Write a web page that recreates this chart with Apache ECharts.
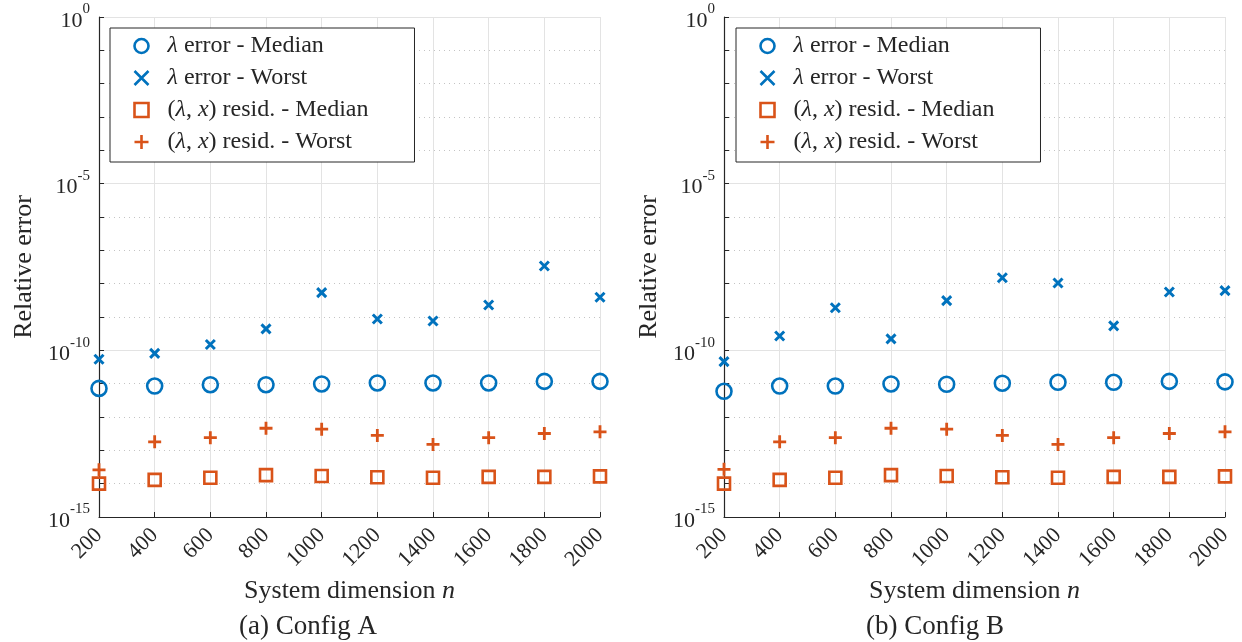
<!DOCTYPE html>
<html>
<head>
<meta charset="utf-8">
<script src="https://cdn.jsdelivr.net/npm/echarts@6/dist/echarts.min.js"></script>
<style>
  html, body { margin: 0; padding: 0; background: #fff; }
  #chart { width: 1242px; height: 642px; }
</style>
</head>
<body>
<div id="chart"></div>
<script>
// system dimension n
const dims = [200, 400, 600, 800, 1000, 1200, 1400, 1600, 1800, 2000]

// (a) Config A
const lamMedA = [7.2e-12, 8.5e-12, 9.3e-12, 9.3e-12, 9.8e-12, 1.05e-11, 1.05e-11, 1.05e-11, 1.17e-11, 1.17e-11]
const lamWorstA = [5.4e-11, 8.1e-11, 1.5e-10, 4.4e-10, 5.4e-9, 8.7e-10, 7.6e-10, 2.3e-9, 3.4e-8, 3.9e-9]
const resMedA = [1.0e-14, 1.3e-14, 1.5e-14, 1.8e-14, 1.7e-14, 1.55e-14, 1.5e-14, 1.6e-14, 1.6e-14, 1.65e-14]
const resWorstA = [2.6e-14, 1.8e-13, 2.4e-13, 4.6e-13, 4.3e-13, 2.8e-13, 1.5e-13, 2.4e-13, 3.2e-13, 3.6e-13]

// (b) Config B
const lamMedB = [5.9e-12, 8.5e-12, 8.5e-12, 9.8e-12, 9.6e-12, 1.03e-11, 1.1e-11, 1.1e-11, 1.17e-11, 1.13e-11]
const lamWorstB = [4.6e-11, 2.7e-10, 1.9e-9, 2.2e-10, 3.1e-9, 1.5e-8, 1.05e-8, 5.4e-10, 5.6e-9, 6.2e-9]
const resMedB = [1.0e-14, 1.3e-14, 1.5e-14, 1.8e-14, 1.7e-14, 1.55e-14, 1.5e-14, 1.6e-14, 1.6e-14, 1.65e-14]
const resWorstB = [2.7e-14, 1.8e-13, 2.4e-13, 4.6e-13, 4.3e-13, 2.8e-13, 1.5e-13, 2.4e-13, 3.2e-13, 3.6e-13]

const names = ['λ error - Median', 'λ error - Worst', '(λ, x) resid. - Median', '(λ, x) resid. - Worst']
const captions = ['(a) Config A', '(b) Config B']

const blue = '#0072BD'
const orange = '#D95319'
const txt = '#262626'
const font = 'Liberation Serif'

const X_SYM = 'path://M0,0L10,10M10,0L0,10'
const PLUS_SYM = 'path://M5,0L5,10M0,5L10,5'

function pairs(ys) {
  return dims.map((d, i) => [d, ys[i]])
}

function makeSeries(idx, med, worst, rmed, rworst) {
  const base = { type: 'scatter', xAxisIndex: idx, yAxisIndex: idx * 2, silent: true }
  return [
    Object.assign({}, base, { name: names[0], data: pairs(med), symbol: 'circle', symbolSize: 15,
      itemStyle: { color: 'none', borderColor: blue, borderWidth: 2.6, opacity: 1 } }),
    Object.assign({}, base, { name: names[1], data: pairs(worst), symbol: X_SYM, symbolSize: 9,
      itemStyle: { color: 'none', borderColor: blue, borderWidth: 3, opacity: 1 } }),
    Object.assign({}, base, { name: names[2], data: pairs(rmed), symbol: 'rect', symbolSize: 12,
      itemStyle: { color: 'none', borderColor: orange, borderWidth: 2.6, opacity: 1 } }),
    Object.assign({}, base, { name: names[3], data: pairs(rworst), symbol: PLUS_SYM, symbolSize: 13,
      itemStyle: { color: 'none', borderColor: orange, borderWidth: 2.8, opacity: 1 } })
  ]
}

function xAxisOf(idx) {
  return {
    type: 'value', gridIndex: idx, min: 200, max: 2000, interval: 200,
    name: 'System dimension {i|n}', nameLocation: 'middle', nameGap: 60,
    nameTextStyle: { fontFamily: font, fontSize: 26, color: txt,
      rich: { i: { fontFamily: font, fontSize: 26, fontStyle: 'italic', color: txt } } },
    axisLine: { lineStyle: { color: txt, width: 1.2 } },
    axisTick: { inside: true, length: 5, lineStyle: { color: txt } },
    axisLabel: { rotate: 45, fontFamily: font, fontSize: 22, color: txt, margin: 15,
      formatter: function (v) { return String(v) } },
    splitLine: { show: true, lineStyle: { color: '#e3e3e3', width: 1 } }
  }
}

function yAxesOf(idx) {
  return [{
    type: 'log', gridIndex: idx, min: 1e-15, max: 1, interval: 1,
    name: 'Relative error', nameLocation: 'middle', nameGap: 62,
    nameTextStyle: { fontFamily: font, fontSize: 26, color: txt },
    axisLine: { lineStyle: { color: txt, width: 1.2 } },
    axisTick: { inside: true, length: 5, lineStyle: { color: txt } },
    axisLabel: {
      margin: 9,
      formatter: function (v) {
        const e = Math.round(Math.log10(v))
        if (e % 5 !== 0) return ''
        return '{b|10}{s|' + (e === 0 ? '0' : e) + '}'
      },
      rich: {
        b: { fontFamily: font, fontSize: 22, color: txt, lineHeight: 30, verticalAlign: 'bottom' },
        s: { fontFamily: font, fontSize: 15, color: txt, lineHeight: 15, verticalAlign: 'top' }
      }
    },
    splitLine: { show: true, lineStyle: { color: '#c4c4c4', width: 1, type: [1, 4] } }
  }, {
    // solid major grid lines every 5 decades
    type: 'log', gridIndex: idx, min: 1e-15, max: 1, interval: 5,
    axisLine: { show: false }, axisTick: { show: false }, axisLabel: { show: false },
    splitLine: { show: true, lineStyle: { color: '#e3e3e3', width: 1 } }
  }]
}

function legendOf(left) {
  return {
    left: left, top: 28, orient: 'vertical',
    data: names, selectedMode: false,
    backgroundColor: '#fff', borderColor: txt, borderWidth: 1,
    padding: [6, 46, 8, 22], itemGap: 8, itemWidth: 14, itemHeight: 14, itemTextGap: 20,
    itemStyle: { borderWidth: 2.6 },
    textStyle: { fontFamily: font, fontSize: 24, color: txt, lineHeight: 24,
      rich: {
        i: { fontFamily: font, fontSize: 24, fontStyle: 'italic', color: txt, lineHeight: 24 },
        sp: { width: 14, lineHeight: 24 }
      } },
    formatter: function (name) {
      return '{sp|}' + name.replace(/λ/g, '{i|λ}').replace(/, x\)/, ', {i|x})')
    }
  }
}

const chart = echarts.init(document.getElementById('chart'))
const option = {
  animation: false,
  backgroundColor: '#fff',
  title: [
    { text: captions[0], left: 239, top: 613, textStyle: { fontFamily: font, fontSize: 27, fontWeight: 'normal', color: txt }, padding: 0 },
    { text: captions[1], left: 866, top: 613, textStyle: { fontFamily: font, fontSize: 27, fontWeight: 'normal', color: txt }, padding: 0 }
  ],
  grid: [
    { left: 99, top: 17, width: 501, height: 500 },
    { left: 724, top: 17, width: 501, height: 500 }
  ],
  legend: [legendOf(110), legendOf(736)],
  xAxis: [xAxisOf(0), xAxisOf(1)],
  yAxis: yAxesOf(0).concat(yAxesOf(1)),
  series: makeSeries(0, lamMedA, lamWorstA, resMedA, resWorstA)
    .concat(makeSeries(1, lamMedB, lamWorstB, resMedB, resWorstB))
}
chart.setOption(option)
</script>
</body>
</html>
